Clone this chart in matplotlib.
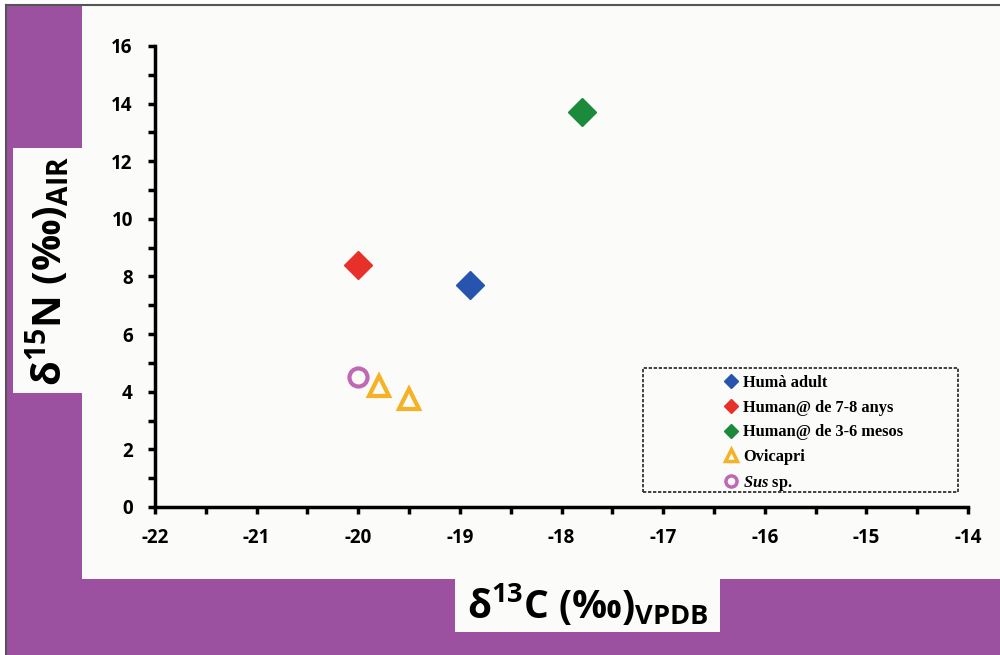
import matplotlib.pyplot as plt
from matplotlib.patches import Rectangle
from matplotlib.lines import Line2D

plt.rcParams['axes.unicode_minus'] = False
plt.rcParams['mathtext.fontset'] = 'custom'
plt.rcParams['mathtext.bf'] = 'Open Sans:bold'
plt.rcParams['mathtext.rm'] = 'Open Sans:bold'
plt.rcParams['mathtext.it'] = 'Liberation Serif:italic:bold'

# isotope values (d13C, d15N)
labels = ["Humà adult", "Human@ de 7-8 anys", "Human@ de 3-6 mesos", "Ovicapri", "$\\mathit{Sus}$ sp."]
d13c = [[-18.9], [-20.0], [-17.8], [-19.8, -19.5], [-20.0]]
d15n = [[7.7], [8.4], [13.7], [4.2, 3.75], [4.5]]
colors = ["#2754ae", "#e8302b", "#1c8a3b", "#f4b224", "#bf69b4"]
markers = ["D", "D", "D", "^", "o"]
filled = [True, True, True, False, False]

purple = "#9b51a0"
paper = "#fbfbf9"

fig = plt.figure(figsize=(10, 6.55), dpi=100)
fig.patch.set_facecolor("white")

# background layer: purple frame, white panel, label boxes
bg = fig.add_axes([0, 0, 1, 1], zorder=-5)
bg.set_xlim(0, 1)
bg.set_ylim(0, 1)
bg.axis("off")
bg.add_patch(Rectangle((0.006, 0), 1.0, 0.992, facecolor=purple, edgecolor="none"))
bg.add_patch(Rectangle((0.082, 0.116), 0.92, 0.876, facecolor=paper, edgecolor="none"))
bg.add_patch(Rectangle((0.013, 0.400), 0.07, 0.374, facecolor=paper, edgecolor="none"))
bg.add_patch(Rectangle((0.455, 0.035), 0.265, 0.083, facecolor=paper, edgecolor="none"))
bg.plot([0.006, 0.006], [0, 0.992], color="#555555", lw=1.5)
bg.plot([0.006, 1.0], [0.992, 0.992], color="#555555", lw=1.5)

bg.text(0.048, 0.587, r"$\mathbf{\delta^{15}N\ (‰)_{AIR}}$", rotation=90,
        ha="center", va="center", fontsize=29)
bg.text(0.588, 0.078, r"$\mathbf{\delta^{13}C\ (‰)_{VPDB}}$",
        ha="center", va="center", fontsize=28)

ax = fig.add_axes([0.155, 0.226, 0.813, 0.7038])
ax.set_facecolor("none")

for lab, xs, ys, c, m, f in zip(labels, d13c, d15n, colors, markers, filled):
    if f:
        ax.plot(xs, ys, linestyle="none", marker=m, markersize=14, color=c, label=lab)
    else:
        ax.plot(xs, ys, linestyle="none", marker=m, markersize=15 if m == "^" else 13,
                markerfacecolor="none", markeredgecolor=c, markeredgewidth=3, label=lab)

ax.set_xlim(-22, -14)
ax.set_ylim(0, 16)
ax.set_xticks(range(-22, -13))
ax.set_yticks(range(0, 17, 2))
ax.set_xticks([x + 0.5 for x in range(-22, -14)], minor=True)
ax.set_yticks(range(1, 16, 2), minor=True)

for s in ["top", "right"]:
    ax.spines[s].set_visible(False)
for s in ["left", "bottom"]:
    ax.spines[s].set_linewidth(2.5)

ax.tick_params(which="both", direction="out", length=5, width=2.5)
ax.tick_params(axis="both", which="major", labelsize=13.5, labelfontfamily="Open Sans")
ax.tick_params(axis="y", which="major", pad=11)
ax.tick_params(axis="x", which="major", pad=10)
for t in ax.get_xticklabels() + ax.get_yticklabels():
    t.set_fontweight("bold")

# legend frame
ax.add_patch(Rectangle((0.6, 0.0325), 0.388, 0.269, transform=ax.transAxes,
                       facecolor="none", edgecolor="#222222", linestyle=(0, (2, 1)), lw=1.2))

leg_handles = []
for c, m, f in zip(colors, markers, filled):
    if f:
        leg_handles.append(Line2D([], [], linestyle="none", marker=m, markersize=7, color=c))
    else:
        leg_handles.append(Line2D([], [], linestyle="none", marker=m, markersize=8,
                                  markerfacecolor="none", markeredgecolor=c, markeredgewidth=2.5))
ax.legend(leg_handles, labels, loc="upper left", bbox_to_anchor=(0.682, 0.318),
          frameon=False, handlelength=0.8, handletextpad=0.35, labelspacing=0.53,
          prop={"family": "Liberation Serif", "weight": "bold", "size": 11.8})

fig.savefig("out.png", dpi=100, facecolor=fig.get_facecolor())
